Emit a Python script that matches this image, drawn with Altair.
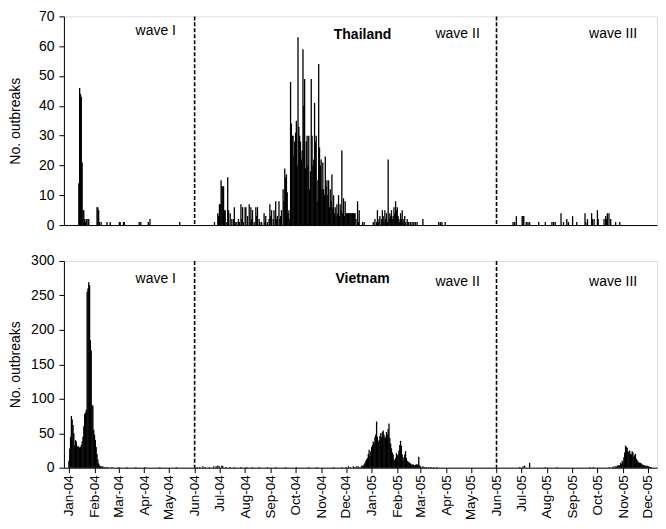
import altair as alt
import pandas as pd

# Daily number of outbreaks, (day offset from 2004-01-01, count)
thai_wave1 = [(12, 14), (13, 46), (14, 44), (15, 43), (16, 21), (17, 5), (18, 5), (19, 2), (20, 1),
              (21, 2), (23, 2), (24, 2), (34, 6), (35, 6), (36, 5), (37, 1), (39, 1), (46, 1), (50, 1),
              (61, 1), (62, 1), (66, 1), (67, 1), (85, 1), (87, 1), (96, 1), (98, 2), (134, 1)]
thai_wave2 = [(176, 1), (180, 4), (181, 3), (182, 7), (183, 7), (184, 15), (185, 13), (186, 13), (187, 13),
              (188, 5), (189, 5), (191, 1), (192, 16), (193, 5), (195, 4), (197, 2), (199, 2), (200, 6),
              (201, 1), (203, 1), (205, 2), (206, 1), (208, 7), (209, 2), (210, 6), (211, 1), (213, 6),
              (214, 6), (216, 3), (218, 7), (219, 1), (220, 6), (221, 2), (222, 5), (224, 1), (226, 6),
              (227, 3), (228, 6), (230, 2), (231, 1), (233, 1), (236, 4), (237, 1), (238, 3), (240, 1),
              (242, 2), (243, 7), (244, 3), (245, 5), (247, 2), (248, 5), (250, 8), (251, 2), (252, 3),
              (254, 8), (255, 2), (256, 3), (257, 5), (259, 12), (260, 8), (261, 19), (262, 16), (263, 17),
              (264, 11), (265, 4), (266, 5), (267, 2), (268, 48), (269, 34), (270, 30), (271, 30), (272, 23),
              (273, 28), (274, 31), (275, 35), (276, 20), (277, 63), (278, 33), (279, 30), (280, 28),
              (281, 22), (282, 25), (283, 59), (284, 40), (285, 49), (286, 19), (287, 28), (288, 30),
              (289, 20), (290, 30), (291, 12), (292, 18), (293, 49), (294, 30), (295, 20), (296, 22),
              (297, 41), (298, 28), (299, 30), (300, 8), (301, 15), (302, 54), (303, 26), (304, 20),
              (305, 22), (306, 12), (307, 21), (308, 12), (309, 10), (310, 23), (311, 13), (312, 15),
              (313, 10), (314, 15), (315, 6), (316, 12), (317, 8), (318, 17), (319, 6), (320, 10), (321, 4),
              (322, 6), (323, 3), (324, 7), (325, 4), (326, 10), (327, 3), (328, 7), (329, 5), (330, 25),
              (331, 4), (332, 9), (333, 3), (334, 8), (335, 4), (336, 4), (337, 4), (338, 4), (339, 4),
              (340, 4), (341, 4), (342, 4), (343, 4), (344, 4), (345, 4), (346, 4), (347, 2), (349, 8),
              (350, 1), (351, 5), (355, 1), (357, 1), (368, 1), (370, 2), (372, 1), (373, 5), (374, 1),
              (375, 2), (376, 3), (378, 2), (379, 5), (380, 3), (381, 1), (382, 5), (383, 2), (384, 4),
              (385, 1), (386, 22), (387, 2), (388, 4), (389, 3), (390, 5), (391, 2), (392, 3), (393, 6),
              (394, 4), (395, 8), (396, 5), (397, 6), (398, 3), (399, 2), (400, 1), (401, 4), (402, 2),
              (403, 5), (404, 1), (405, 2), (406, 3), (407, 1), (409, 2), (410, 1), (411, 1), (413, 1),
              (415, 1), (417, 1), (419, 1), (421, 1), (428, 2), (447, 1), (449, 1), (451, 1), (455, 1)]
thai_wave3 = [(537, 1), (539, 1), (541, 3), (548, 3), (549, 3), (550, 3), (553, 1), (555, 1), (557, 1),
              (568, 1), (576, 1), (584, 1), (586, 1), (588, 1), (595, 4), (598, 1), (602, 2), (604, 1),
              (609, 3), (614, 1), (624, 4), (625, 1), (627, 2), (632, 4), (633, 2), (635, 2), (639, 5),
              (640, 2), (647, 2), (649, 3), (650, 2), (651, 4), (653, 4), (655, 2), (661, 1), (666, 1)]

viet_wave1 = [(0, 10), (1, 28), (2, 45), (3, 75), (4, 70), (5, 62), (6, 50), (7, 33), (8, 40), (9, 38),
              (10, 30), (11, 32), (12, 30), (13, 29), (14, 30), (15, 33), (16, 38), (17, 45), (18, 60),
              (19, 78), (20, 80), (21, 84), (22, 255), (23, 260), (24, 269), (25, 265), (26, 185),
              (27, 170), (28, 91), (29, 90), (30, 55), (31, 48), (32, 40), (33, 30), (34, 20), (35, 12),
              (36, 6), (37, 3), (38, 2), (39, 2), (40, 1), (41, 2), (43, 1), (45, 1), (47, 1), (52, 1),
              (60, 1), (70, 1), (81, 1), (92, 1), (110, 1), (130, 1)]
viet_wave2 = [(155, 1), (158, 1), (162, 2), (165, 1), (170, 1), (175, 2), (178, 2), (180, 3), (182, 2),
              (185, 3), (186, 2), (190, 1), (195, 1), (200, 1), (208, 1), (215, 1), (222, 1), (230, 1),
              (240, 1), (250, 1), (262, 1), (275, 1), (290, 1), (300, 1), (320, 1), (330, 1), (335, 1),
              (338, 2), (340, 1), (344, 2), (346, 1), (348, 2), (350, 2), (352, 1), (354, 3), (355, 2),
              (356, 3), (357, 5), (358, 7), (359, 10), (360, 12), (361, 14), (362, 20), (363, 26),
              (364, 17), (365, 24), (366, 30), (367, 33), (368, 38), (369, 36), (370, 44), (371, 48),
              (372, 67), (373, 45), (374, 38), (375, 40), (376, 46), (377, 50), (378, 44), (379, 52),
              (380, 54), (381, 48), (382, 43), (383, 45), (384, 52), (385, 48), (386, 56), (387, 64),
              (388, 43), (389, 35), (390, 28), (391, 22), (392, 19), (393, 12), (394, 11), (395, 14),
              (396, 21), (397, 18), (398, 19), (399, 25), (400, 33), (401, 39), (402, 32), (403, 19),
              (404, 15), (405, 11), (406, 19), (407, 24), (408, 14), (409, 10), (410, 9), (411, 8),
              (412, 7), (413, 6), (414, 5), (415, 4), (416, 5), (417, 4), (418, 3), (419, 4), (420, 5),
              (421, 4), (422, 5), (423, 16), (424, 3), (425, 2), (427, 1), (428, 2), (430, 1), (432, 1),
              (435, 1), (438, 1), (441, 1), (445, 1)]
viet_wave3 = [(545, 1), (549, 2), (551, 3), (557, 7), (576, 1), (590, 1), (630, 1), (634, 1), (653, 1),
              (657, 1), (659, 2), (661, 2), (662, 1), (663, 3), (664, 2), (665, 4), (666, 3), (667, 7),
              (668, 5), (669, 10), (670, 8), (671, 15), (672, 22), (673, 32), (674, 30), (675, 29),
              (676, 24), (677, 22), (678, 25), (679, 20), (680, 19), (681, 24), (682, 22), (683, 16),
              (684, 18), (685, 20), (686, 13), (687, 11), (688, 9), (689, 8), (690, 7), (691, 7),
              (692, 6), (693, 5), (694, 4), (695, 4), (696, 3), (697, 3), (698, 2), (699, 3), (700, 2),
              (701, 2), (702, 1), (703, 1), (704, 1)]

wave_boundaries = ["2004-06-01", "2005-06-01"]
thai_ticks = [0, 10, 20, 30, 40, 50, 60, 70]
viet_ticks = [0, 50, 100, 150, 200, 250, 300]
x_range = ["2004-01-01", "2005-12-06"]

# annotations: (label, date, value, bold)
thai_notes = [("wave I", "2004-04-15", 65, False), ("Thailand", "2004-12-21", 63.6, True),
              ("wave II", "2005-04-15", 64, False), ("wave III", "2005-10-20", 64, False)]
viet_notes = [("wave I", "2004-04-15", 274, False), ("Vietnam", "2004-12-21", 274, True),
              ("wave II", "2005-04-15", 270, False), ("wave III", "2005-10-20", 270, False)]

START = pd.Timestamp("2004-01-01")
FONT = "Liberation Sans"


def ms(s):
    return int(pd.Timestamp(s, tz="UTC").timestamp() * 1000)


def to_df(*waves):
    rows = [p for w in waves for p in w]
    return pd.DataFrame({
        "date": [(START + pd.Timedelta(days=d)).strftime("%Y-%m-%d") for d, _ in rows],
        "n": [n for _, n in rows],
    })


month_ticks = [ms(f"{2004 + i // 12}-{i % 12 + 1:02d}-01") for i in range(24)]
xscale = alt.Scale(type="utc", domain=[ms(x_range[0]), ms(x_range[1])], nice=False)
W = 594


def panel(df, ymax, yticks, notes, h, bottom):
    if bottom:
        xaxis = alt.Axis(values=month_ticks, format="%b-%y", labelAngle=270, labelAlign="right",
                         labelBaseline="middle", tickSize=5, tickColor="black", domainColor="black",
                         labelFontSize=13.5, labelColor="black", labelPadding=2, grid=False, title=None,
                         labelFont=FONT, labelOverlap=False)
    else:
        xaxis = alt.Axis(labels=False, ticks=False, grid=False, title=None, domainColor="black")
    yaxis = alt.Axis(values=yticks, title="No. outbreaks", grid=False, tickSize=5, tickColor="black",
                     domainColor="black", labelFontSize=14, labelColor="black", labelPadding=5,
                     labelFont=FONT, titleFont=FONT, titleFontSize=14, titleFontWeight="normal",
                     titleColor="black", titleX=-44, titleY=h / 2, titleAngle=270,
                     titleAlign="center", titleBaseline="alphabetic", labelOverlap=False)
    X = alt.X("date:T", scale=xscale, axis=xaxis)
    Y = alt.Y("n:Q", scale=alt.Scale(domain=[0, ymax], nice=False), axis=yaxis)
    bars = alt.Chart(df).mark_bar(color="black", size=1.3).encode(x=X, y=Y)
    rules = alt.Chart(pd.DataFrame({"date": wave_boundaries})).mark_rule(
        color="black", strokeDash=[4, 2], strokeWidth=1.6
    ).encode(x=X)
    ndf = pd.DataFrame({"label": [a for a, _, _, _ in notes], "date": [b for _, b, _, _ in notes],
                        "n": [c for _, _, c, _ in notes], "bold": [d for _, _, _, d in notes]})
    t_norm = alt.Chart(ndf[~ndf["bold"]]).mark_text(font=FONT, fontSize=14, color="black").encode(
        x=X, y=Y, text="label:N")
    t_bold = alt.Chart(ndf[ndf["bold"]]).mark_text(font=FONT, fontSize=14, fontWeight="bold",
                                                   color="black").encode(x=X, y=Y, text="label:N")
    return alt.layer(bars, rules, t_norm, t_bold).properties(width=W, height=h)


top = panel(to_df(thai_wave1, thai_wave2, thai_wave3), 70, thai_ticks, thai_notes, 209, False)
bot = panel(to_df(viet_wave1, viet_wave2, viet_wave3), 300, viet_ticks, viet_notes, 207, True)

chart = alt.vconcat(top, bot, spacing=20).properties(
    padding={"left": 0, "top": 0, "right": 0, "bottom": 0}
).configure_view(stroke="#333", strokeWidth=1).configure(font=FONT)

chart.save("out.html", embed_options={"renderer": "svg", "actions": False})
